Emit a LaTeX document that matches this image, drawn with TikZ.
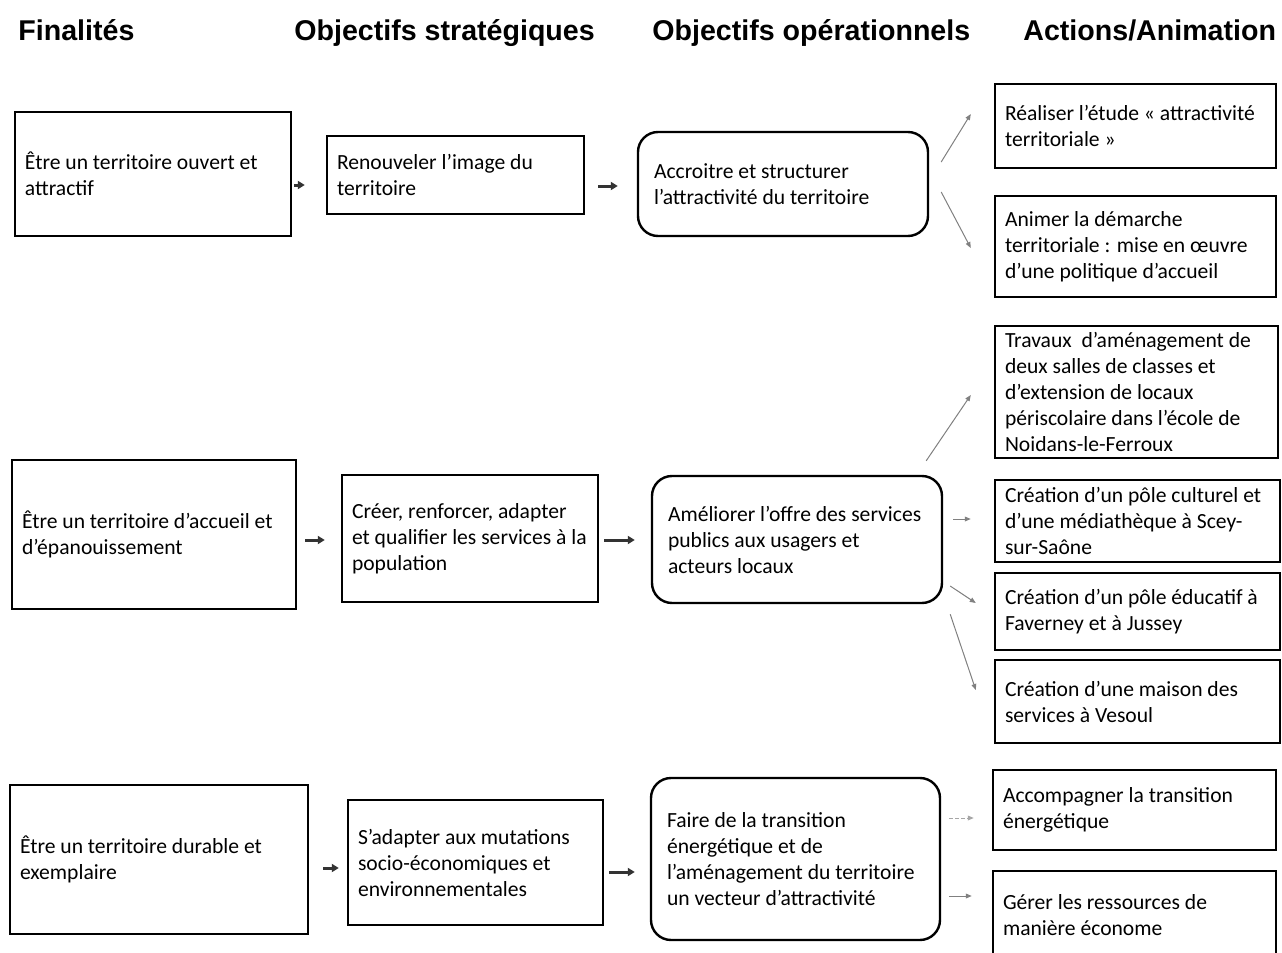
\documentclass[tikz,border=0pt]{standalone}
\usepackage{fontspec}
\setmainfont{Carlito}
\newfontfamily\hdfont{Liberation Sans}
\usetikzlibrary{arrows.meta}
\tikzset{
  bx/.style={draw,line width=1.2pt,align=flush left,inner xsep=5pt,inner ysep=0pt,
    font=\fontsize{10.8}{13}\selectfont},
  rbx/.style={bx,rounded corners=10pt,inner xsep=8pt},
  hd/.style={anchor=base west,inner sep=0pt,font=\hdfont\bfseries\fontsize{14.3}{16}\selectfont},
  ta/.style={-{Triangle[length=3.5pt,width=4pt]},line width=1.5pt,black!80},
  sa/.style={-{Triangle[length=3pt,width=2.4pt]},line width=0.5pt,black!50},
}
\begin{document}
\begin{tikzpicture}[x=0.5pt,y=-0.5pt]
\useasboundingbox (0,0) rectangle (1282,953);
% titres des colonnes
\node[hd] (h1) at (18,40) {Finalités};
\node[hd] (h2) at (294,40) {Objectifs stratégiques};
\node[hd] (h3) at (652,40) {Objectifs opérationnels};
\node[hd] (h4) at (1023,40) {Actions/Animation};
% ligne 1
\node[bx,text width=128pt,minimum height=62pt] (f1) at (153,174) {Être un territoire ouvert et\\attractif};
\node[bx,text width=118.5pt,minimum height=39pt] (s1) at (455.5,175) {Renouveler l’image du\\territoire};
\node[rbx,text width=129pt,minimum height=52pt] (o1) at (783,184) {Accroitre et structurer\\l’attractivité du territoire};
\node[bx,text width=130.5pt,minimum height=42pt] (a1) at (1135.5,126) {Réaliser l’étude « attractivité\\territoriale »};
\node[bx,text width=130.5pt,minimum height=50.5pt] (a2) at (1135.5,246.5) {Animer la démarche\\territoriale : mise en œuvre\\d’une politique d’accueil};
% ligne 2
\node[bx,text width=132pt,minimum height=74.5pt] (f2) at (154,534.5) {Être un territoire d’accueil et\\d’épanouissement};
\node[bx,text width=118pt,minimum height=63.5pt] (s2) at (470,538.5) {Créer, renforcer, adapter\\et qualifier les services à la\\population};
\node[rbx,text width=129pt,minimum height=63.5pt] (o2) at (797,539.5) {Améliorer l’offre des services\\publics aux usagers et\\acteurs locaux};
\node[bx,text width=131.5pt,minimum height=66pt] (a3) at (1136.5,392) {Travaux\ \ d’aménagement de\\deux salles de classes et\\d’extension de locaux\\périscolaire dans l’école de\\Noidans-le-Ferroux};
\node[bx,text width=132.5pt,minimum height=41pt] (a4) at (1137.5,521) {Création d’un pôle culturel et\\d’une médiathèque à Scey-\\sur-Saône};
\node[bx,text width=132.5pt,minimum height=38.5pt] (a5) at (1137.5,611.5) {Création d’un pôle éducatif à\\Faverney et à Jussey};
\node[bx,text width=132.5pt,minimum height=41.5pt] (a6) at (1137.5,701.5) {Création d’une maison des\\services à Vesoul};
% ligne 3
\node[bx,text width=139pt,minimum height=74.5pt] (f3) at (159,859.5) {Être un territoire durable et\\exemplaire};
\node[bx,text width=117.5pt,minimum height=62.5pt] (s3) at (475.5,862.5) {S’adapter aux mutations\\socio-économiques et\\environnementales};
\node[rbx,text width=128.5pt,minimum height=81pt] (o3) at (795.5,859) {Faire de la transition\\énergétique et de\\l’aménagement du territoire\\un vecteur d’attractivité};
\node[bx,text width=131.5pt,minimum height=40pt] (a7) at (1134.5,810) {Accompagner la transition\\énergétique};
\node[bx,text width=131.5pt,minimum height=44pt] (a8) at (1134.5,915) {Gérer les ressources de\\manière économe};
% fleches epaisses
\draw[ta,shorten <=1pt,shorten >=10.5pt] ([yshift=-5.5pt]f1.east) -- ([yshift=-5pt]s1.west);
\draw[ta,shorten <=6.5pt,shorten >=9.5pt] ([yshift=-5.5pt]s1.east) -- ([yshift=-1pt]o1.west);
\draw[ta,shorten <=4pt,shorten >=8pt] ([yshift=-2.75pt]f2.east) -- ([yshift=-0.75pt]s2.west);
\draw[ta,shorten <=2.5pt,shorten >=8pt] ([yshift=-0.75pt]s2.east) -- ([yshift=-0.25pt]o2.west);
\draw[ta,shorten <=7pt,shorten >=4pt] ([yshift=-4.25pt]f3.east) -- ([yshift=-2.75pt]s3.west);
\draw[ta,shorten <=2.5pt,shorten >=7.5pt] ([yshift=-4.75pt]s3.east) -- ([yshift=-6.5pt]o3.west);
% fleches fines
\draw[sa] ([xshift=6pt,yshift=11pt]o1.east) -- ([xshift=-11.5pt,yshift=6pt]a1.west);
\draw[sa] ([xshift=6pt,yshift=-4pt]o1.east) -- ([xshift=-11.5pt,yshift=-0.75pt]a2.west);
\draw[sa] ([xshift=-8.5pt,yshift=7pt]o2.north east) -- ([xshift=-11.5pt,yshift=-1.5pt]a3.west);
\draw[sa] ([xshift=5pt,yshift=10.25pt]o2.east) -- ([xshift=-11.5pt,yshift=1pt]a4.west);
\draw[sa] ([xshift=3.5pt,yshift=-23.25pt]o2.east) -- ([xshift=-9pt,yshift=4.25pt]a5.west);
\draw[sa] ([xshift=3.5pt,yshift=-5pt]o2.south east) -- ([xshift=-9pt,yshift=5.75pt]a6.west);
\draw[sa,black!35,dash pattern=on 2pt off 1pt] ([xshift=4pt,yshift=20.5pt]o3.east) -- ([xshift=-9pt,yshift=-4pt]a7.west);
\draw[sa] ([xshift=4pt,yshift=-18.5pt]o3.east) -- ([xshift=-10pt,yshift=9.5pt]a8.west);
\end{tikzpicture}
\end{document}
